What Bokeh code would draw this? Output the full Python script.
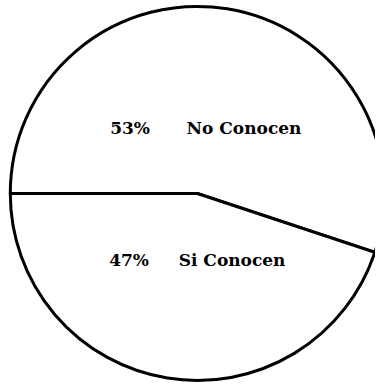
import numpy as np
from bokeh.plotting import figure
from bokeh.models import Range1d, ColumnDataSource
from bokeh.core.properties import value
from bokeh.embed import file_html
from bokeh.resources import INLINE

# data
categories = ["No Conocen", "Si Conocen"]
percent_labels = ["53%", "47%"]
# share of the circle as drawn in the picture (upper slice starts at the left, 180 deg)
slice_share = [55.1, 44.9]

W, H = 375, 382
p = figure(width=W, height=H, output_backend="svg", toolbar_location=None,
           x_range=Range1d(0, 383), y_range=Range1d(0, 390),
           min_border=0, outline_line_color=None, background_fill_color="white")
p.axis.visible = False
p.grid.visible = False

cx, cy, r = 201, 193, 191
frac = np.array(slice_share) / sum(slice_share)
start = np.pi - np.concatenate([[0], np.cumsum(frac)[:-1]]) * 2 * np.pi
end = start - frac * 2 * np.pi
src = ColumnDataSource(dict(x=[cx, cx], y=[cy, cy], start=end, end=start))
p.wedge(x="x", y="y", radius=r, start_angle="start", end_angle="end", source=src,
        fill_color="white", line_color="black", line_width=3)

lab = ColumnDataSource(dict(px=[112, 111], cx_=[190, 182], y=[260, 125],
                            pct=percent_labels, cat=categories))
p.text(x="px", y="y", text="pct", source=lab, text_font=value("DejaVu Serif"),
       text_font_size="17px", text_font_style="bold", text_baseline="middle",
       text_align="left", text_color="black")
p.text(x="cx_", y="y", text="cat", source=lab, text_font=value("DejaVu Serif"),
       text_font_size="17px", text_font_style="bold", text_baseline="middle",
       text_align="left", text_color="black")

open("out.html", "w").write(file_html(p, INLINE))
